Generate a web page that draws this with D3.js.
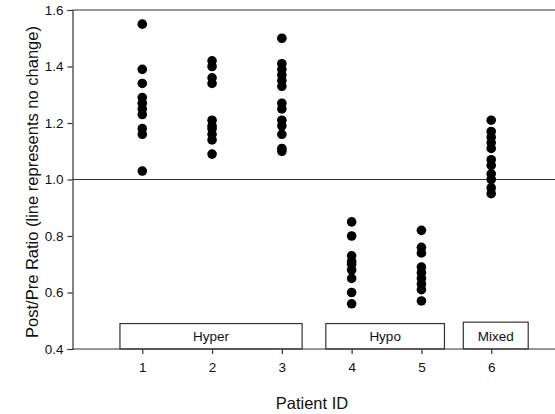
<!DOCTYPE html>
<html>
<head>
<meta charset="utf-8">
<script src="https://cdn.jsdelivr.net/npm/d3@7"></script>
<style>
  html, body { margin: 0; padding: 0; background: #fff; }
  svg { display: block; font-family: "Liberation Sans", Arial, sans-serif; }
</style>
</head>
<body>
<svg id="chart" width="555" height="414"></svg>
<script>
// Post/pre ratios per patient
const patients = [1, 2, 3, 4, 5, 6];
const ratios1 = [1.55, 1.39, 1.34, 1.29, 1.27, 1.25, 1.23, 1.18, 1.16, 1.03];
const ratios2 = [1.42, 1.40, 1.36, 1.34, 1.21, 1.19, 1.18, 1.16, 1.14, 1.09];
const ratios3 = [1.50, 1.41, 1.39, 1.37, 1.35, 1.33, 1.27, 1.25, 1.21, 1.19, 1.16, 1.11, 1.10];
const ratios4 = [0.85, 0.80, 0.73, 0.71, 0.70, 0.68, 0.65, 0.60, 0.56];
const ratios5 = [0.82, 0.76, 0.74, 0.69, 0.67, 0.65, 0.63, 0.61, 0.57];
const ratios6 = [1.21, 1.17, 1.15, 1.13, 1.11, 1.07, 1.05, 1.02, 1.00, 0.97, 0.95];
const seriesValues = [ratios1, ratios2, ratios3, ratios4, ratios5, ratios6];

// Group bands along the patient axis
const groupNames = ["Hyper", "Hypo", "Mixed"];
const groupStart = [0.68, 3.63, 5.60];
const groupEnd = [3.29, 5.33, 6.53];
const groupTop = [0.49, 0.49, 0.495];

const yTicks = [0.4, 0.6, 0.8, 1.0, 1.2, 1.4, 1.6];
const referenceLine = 1.0;

const svg = d3.select("#chart");
const x = d3.scaleLinear().domain([0, 7]).range([72.5, 561]);
const y = d3.scaleLinear().domain([0.4, 1.6]).range([349, 10]);

const axisColor = "#333";
const lineW = 1.2;
const textColor = "#111";

// frame top line
svg.append("line")
  .attr("x1", x(0)).attr("x2", x(7))
  .attr("y1", y(1.6)).attr("y2", y(1.6))
  .attr("stroke", axisColor).attr("stroke-width", lineW);

// reference line at ratio 1.0
svg.append("line")
  .attr("x1", x(0)).attr("x2", x(7))
  .attr("y1", y(referenceLine)).attr("y2", y(referenceLine))
  .attr("stroke", axisColor).attr("stroke-width", lineW);

// group boxes
const groups = groupNames.map((n, i) => ({ name: n, s: groupStart[i], e: groupEnd[i], t: groupTop[i] }));
const gb = svg.append("g");
gb.selectAll("rect").data(groups).join("rect")
  .attr("x", d => x(d.s))
  .attr("y", d => y(d.t))
  .attr("width", d => x(d.e) - x(d.s))
  .attr("height", d => y(0.4) - y(d.t))
  .attr("fill", "#fff")
  .attr("stroke", axisColor)
  .attr("stroke-width", lineW);
gb.selectAll("text").data(groups).join("text")
  .attr("x", d => (x(d.s) + x(d.e)) / 2)
  .attr("y", d => (y(d.t) + y(0.4)) / 2 + 5)
  .attr("text-anchor", "middle")
  .attr("font-size", 13.5)
  .attr("fill", textColor)
  .text(d => d.name);

// axes
const yAxis = d3.axisLeft(y).tickValues(yTicks).tickFormat(d3.format(".1f")).tickSize(5).tickPadding(4);
const yg = svg.append("g").attr("transform", `translate(${x(0)},0)`).call(yAxis);
const xAxis = d3.axisBottom(x).tickValues(patients).tickFormat(d3.format("d")).tickSize(5).tickPadding(8);
const xg = svg.append("g").attr("transform", `translate(0,${y(0.4)})`).call(xAxis);
[yg, xg].forEach(g => {
  g.select(".domain").attr("stroke", axisColor).attr("stroke-width", lineW);
  g.selectAll(".tick line").attr("stroke", axisColor).attr("stroke-width", lineW);
  g.selectAll(".tick text").attr("font-size", 13.5).attr("fill", textColor)
    .attr("font-family", "'Liberation Sans', Arial, sans-serif");
});
xg.select(".domain").attr("d", `M${x(0)},0H${x(7)}`);

// points
const pts = [];
seriesValues.forEach((vals, i) => vals.forEach(v => pts.push({ p: patients[i], v })));
svg.append("g").selectAll("circle").data(pts).join("circle")
  .attr("cx", d => x(d.p))
  .attr("cy", d => y(d.v))
  .attr("r", 4.8)
  .attr("fill", "#000");

// axis titles
svg.append("text")
  .attr("x", 312).attr("y", 409)
  .attr("text-anchor", "middle")
  .attr("font-size", 16.5)
  .attr("fill", textColor)
  .text("Patient ID");
svg.append("text")
  .attr("transform", `translate(38,${182}) rotate(-90)`)
  .attr("text-anchor", "middle")
  .attr("font-size", 16.5)
  .attr("fill", textColor)
  .text("Post/Pre Ratio (line represents no change)");
</script>
</body>
</html>
